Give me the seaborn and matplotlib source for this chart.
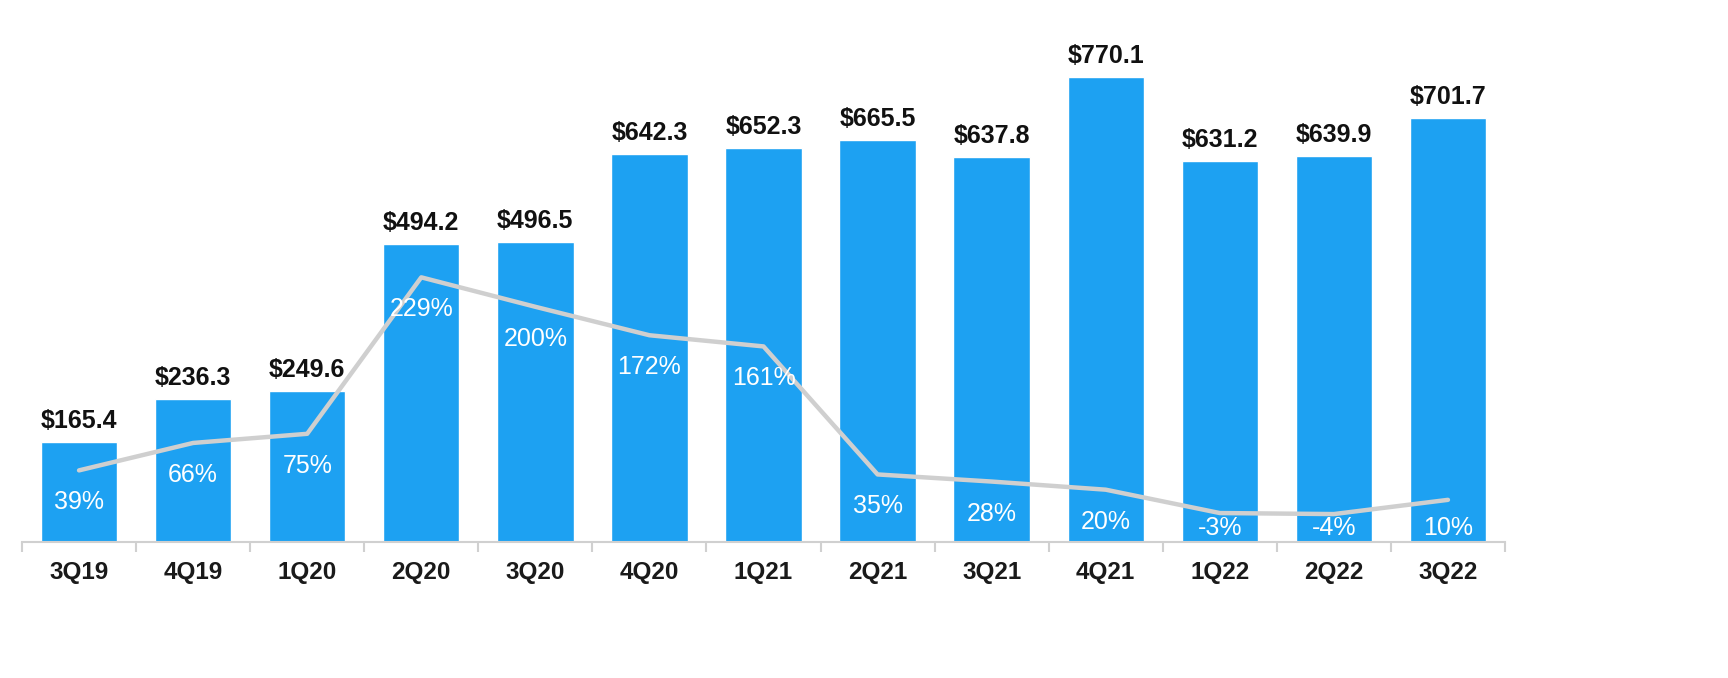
import numpy as np
import pandas as pd
import matplotlib
matplotlib.use("Agg")
import matplotlib.pyplot as plt
import seaborn as sns

quarters = ["3Q19", "4Q19", "1Q20", "2Q20", "3Q20", "4Q20", "1Q21",
            "2Q21", "3Q21", "4Q21", "1Q22", "2Q22", "3Q22"]
revenue = [165.4, 236.3, 249.6, 494.2, 496.5, 642.3, 652.3,
           665.5, 637.8, 770.1, 631.2, 639.9, 701.7]
growth = [39, 66, 75, 229, 200, 172, 161, 35, 28, 20, -3, -4, 10]

df = pd.DataFrame({"quarter": quarters, "revenue": revenue, "growth": growth})

sns.set_style("white")
plt.rcParams["font.family"] = ["Liberation Sans", "DejaVu Sans"]

W, H = 1728, 678
fig = plt.figure(figsize=(W / 100, H / 100), dpi=100)
# axes box in pixels: x 22..1505, baseline at y=542 from top
ax = fig.add_axes([22 / W, (H - 542) / H, (1505 - 22) / W, 542 / H])

bar_color = "#1DA1F2"
sns.barplot(data=df, x="quarter", y="revenue", color=bar_color, width=0.67,
            saturation=1, ax=ax)
ax.set_xlim(-0.5, len(quarters) - 0.5)
ax.set_ylim(0, 770.1 * 542 / 465)

for i, v in enumerate(revenue):
    ax.annotate(f"${v:.1f}", (i, v), xytext=(0, 9), textcoords="offset pixels",
                ha="center", va="bottom", fontsize=18, fontweight="bold",
                color="#111111")

ax.set_xlabel("")
ax.set_ylabel("")
ax.set_yticks([])
for s in ["top", "right", "left"]:
    ax.spines[s].set_visible(False)
ax.spines["bottom"].set_color("#D0D0D0")
ax.spines["bottom"].set_linewidth(1.5)
ax.tick_params(axis="x", which="major", bottom=False, length=0, pad=14,
               labelsize=17.5)
for lab in ax.get_xticklabels():
    lab.set_fontweight("bold")
    lab.set_color("#1a1a1a")
ax.set_xticks(np.arange(len(quarters) + 1) - 0.5, minor=True)
ax.tick_params(axis="x", which="minor", bottom=True, length=7, width=1.5,
               color="#D0D0D0", direction="out")

ax2 = ax.twinx()
lo = -32 / 1.016
ax2.set_ylim(lo, lo + 542 / 1.016)
sns.lineplot(x=np.arange(len(quarters)), y=growth, color="#CFCFCF",
             linewidth=3.2, ax=ax2)
ax2.set_xlim(-0.5, len(quarters) - 0.5)
ax2.set_yticks([])
ax2.set_ylabel("")
for s in ax2.spines.values():
    s.set_visible(False)

# growth labels sit under the line, but not below the bar bottoms
for i, g in enumerate(growth):
    px_line = ax2.transData.transform((i, g))[1]
    px_lab = max(px_line - 32, ax.transData.transform((0, 0))[1] + 14)
    y_lab = ax2.transData.inverted().transform((0, px_lab))[1]
    ax2.text(i, y_lab, f"{g}%", ha="center", va="center", fontsize=18,
             color="white")

fig.savefig("out.png", dpi=100, facecolor="white")
